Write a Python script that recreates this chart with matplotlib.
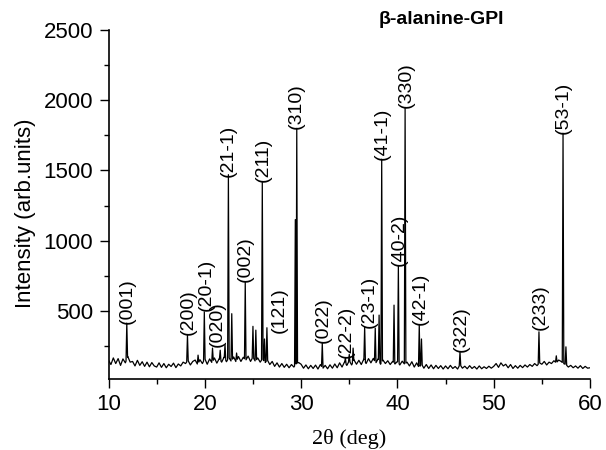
import numpy as np
import matplotlib
matplotlib.use("Agg")
import matplotlib.pyplot as plt
from matplotlib.ticker import MultipleLocator

# ---- data ----
# background (baseline with noise), sampled every 0.25 deg from 10 to 60
base_start, base_stop = 10.0, 60.0
base_values = [
    150, 118, 165, 125, 160, 112, 158, 130, 175, 135, 140, 108, 148, 112, 138, 105, 135, 102, 132, 108,
    100, 130, 98, 125, 95, 120, 104, 128, 96, 122, 108, 135, 125, 148, 115, 140, 150, 118, 152, 125,
    160, 120, 158, 130, 165, 128, 160, 135, 170, 138, 168, 140, 172, 135, 175, 140, 170, 148, 178, 140,
    172, 140, 165, 135, 160, 130, 150, 118, 140, 105, 130, 100, 125, 98, 120, 95, 118, 100, 125, 132,
    120, 92, 115, 88, 112, 90, 114, 86, 118, 90, 112, 88, 116, 92, 122, 95, 130, 100, 135, 112,
    145, 115, 150, 120, 148, 118, 155, 125, 160, 130, 162, 128, 158, 120, 150, 125, 145, 118, 140, 122,
    140, 115, 142, 120, 135, 108, 138, 100, 130, 96, 122, 92, 118, 90, 115, 88, 112, 90, 110, 86,
    108, 88, 112, 90, 104, 86, 118, 92, 106, 88, 110, 90, 104, 86, 108, 88, 102, 90, 106, 92,
    105, 125, 98, 130, 108, 120, 95, 118, 90, 110, 92, 112, 96, 115, 100, 118, 105, 125, 110, 130,
    120, 140, 115, 135, 125, 145, 130, 150, 140, 125, 118, 100, 112, 95, 108, 92, 110, 90, 105, 92,
    95,
]

# diffraction peaks: position (2theta) and top intensity
peak_pos = [11.9, 18.2, 19.3, 19.95, 20.8, 21.6, 22.1, 22.45, 22.8, 23.3, 24.2, 25.0, 25.3,
            25.97, 26.2, 26.45, 29.4, 29.55, 32.2, 34.6, 35.0, 35.4, 36.6, 37.7, 38.1, 38.37,
            39.65, 40.1, 40.8, 42.27, 42.5, 46.5, 54.7, 56.5, 57.2, 57.5]
peak_int = [413, 327, 185, 493, 235, 220, 260, 1470, 480, 200, 707, 390, 363,
            1415, 300, 380, 1150, 1800, 270, 164, 190, 235, 387, 377, 470, 1580,
            541, 818, 1945, 398, 300, 209, 351, 180, 1765, 244]

# Miller-index annotations: text, x position, intensity at text start
hkl_text = ["(001)", "(200)", "(20-1)", "(020)", "(21-1)", "(002)", "(211)", "(121)",
            "(310)", "(022)", "(22-2)", "(23-1)", "(41-1)", "(40-2)", "(330)", "(42-1)",
            "(322)", "(233)", "(53-1)"]
hkl_x = [11.95, 18.29, 20.15, 21.25, 22.44, 24.17, 26.02, 27.7,
         29.54, 32.35, 34.73, 37.05, 38.43, 40.17, 40.9, 42.35,
         46.68, 54.8, 57.23]
hkl_y = [410, 327, 500, 242, 1454, 707, 1415, 342,
         1798, 268, 164, 377, 1573, 818, 1943, 398,
         209, 363, 1763]

# ---- build the profile line ----
base_x = np.linspace(base_start, base_stop, len(base_values))
base_y = np.array(base_values, dtype=float)
hw = 0.08
keep = np.ones(len(base_x), dtype=bool)
for p in peak_pos:
    keep &= np.abs(base_x - p) > hw
xs = list(base_x[keep])
ys = list(base_y[keep])
for p, h in zip(peak_pos, peak_int):
    for xx, yy in ((p - hw, None), (p, h), (p + hw, None)):
        xs.append(xx)
        ys.append(np.interp(xx, base_x, base_y) if yy is None else yy)
order = np.argsort(xs)
xs = np.array(xs)[order]
ys = np.array(ys)[order]

# ---- figure ----
plt.rcParams['font.family'] = ['Liberation Sans', 'DejaVu Sans']
fig = plt.figure(figsize=(6.06, 4.5), dpi=100)
ax = fig.add_axes([108.5 / 606, 1 - 379 / 450, (590 - 108.5) / 606, (379 - 30) / 450])
ax.plot(xs, ys, color='black', lw=0.9)

ax.set_xlim(10, 60)
ax.set_ylim(15, 2500)
ax.xaxis.set_major_locator(MultipleLocator(10))
ax.xaxis.set_minor_locator(MultipleLocator(5))
ax.yaxis.set_major_locator(MultipleLocator(500))
ax.yaxis.set_minor_locator(MultipleLocator(250))
for s in ('top', 'right'):
    ax.spines[s].set_visible(False)
for s in ('left', 'bottom'):
    ax.spines[s].set_linewidth(1.2)
ax.tick_params(which='major', direction='out', length=6.5, width=1.0, labelsize=16, pad=4.5)
ax.tick_params(which='minor', direction='out', length=3.5, width=1.0)

for t, x, y in zip(hkl_text, hkl_x, hkl_y):
    ax.text(x, y, t, rotation=90, ha='center', va='bottom', fontsize=14)

ax.set_xlabel("2θ (deg)", fontsize=16, family=['Liberation Serif', 'DejaVu Serif'])
ax.xaxis.set_label_coords(0.5, -0.172)
ax.xaxis.label.set_va('center')
ax.set_ylabel("Intensity (arb.units)", fontsize=16)
ax.yaxis.set_label_coords(-0.172, 0.476)
ax.yaxis.label.set_va('center')

fig.text(441 / 606, 1 - 19.5 / 450, "β-alanine-GPI", ha='center', va='center',
         fontsize=14, fontweight='bold')

fig.savefig("out.png", dpi=100)
